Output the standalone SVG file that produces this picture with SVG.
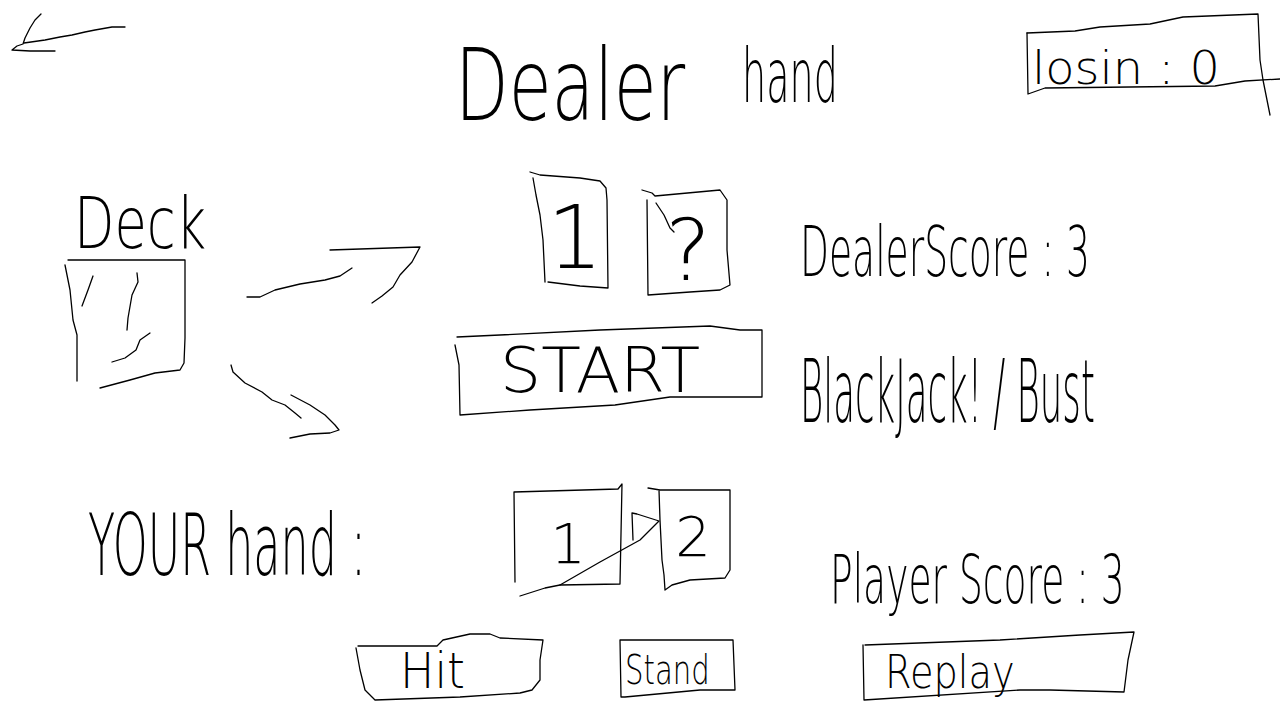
<svg xmlns="http://www.w3.org/2000/svg" width="1280" height="720" viewBox="0 0 1280 720">
<style>
.s{fill:none;stroke:#000;stroke-width:1.3;stroke-linejoin:round;stroke-linecap:round}
.t{font-family:"DejaVu Sans","Liberation Sans",sans-serif;font-weight:200;fill:#000}
</style>
<rect width="1280" height="720" fill="#fff"/>
<g id="back">
<path class="s" d="M125,27 L112,27 L95,30 L85,32 L72,35 L60,37 L45,40 L24,43"/>
<path class="s" d="M41,14 L35,20 L30,28 L25,38 L23,44 L17,46 L12,50 L30,51 L55,51"/>
</g>
<g id="dealer-title">
<text class="t" transform="translate(455,120) scale(0.7,1)" font-size="100" textLength="329" lengthAdjust="spacingAndGlyphs">Dealer</text>
<text class="t" transform="translate(742,102) scale(0.53,1)" font-size="74" textLength="181" lengthAdjust="spacingAndGlyphs">hand</text>
</g>
<g id="losing">
<path class="s" d="M1027,33 L1075,31 L1100,27 L1150,24 L1183,17 L1258,14 L1260,60 L1263,80 L1267,100 L1270,115"/>
<path class="s" d="M1027,33 L1028,94 L1045,88 L1215,86 L1245,81 L1280,79"/>
<text class="t" x="1032" y="84" font-size="46" textLength="188" lengthAdjust="spacingAndGlyphs">losin : 0</text>
</g>
<g id="deck">
<text class="t" transform="translate(74,248) scale(0.73,1)" font-size="72" textLength="181" lengthAdjust="spacingAndGlyphs">Deck</text>
<path class="s" d="M68,260 L185,260 L185,338 L184,363 L180,370 L155,373 L130,380 L100,388"/>
<path class="s" d="M65,265 L70,290 L73,320 L77,335 L77,381"/>
<path class="s" d="M93,276 L88,290 L82,306"/>
<path class="s" d="M137,273 L138,282 L132,295 L128,318 L127,330"/>
<path class="s" d="M150,333 L140,340 L136,350 L125,358 L112,362"/>
</g>
<g id="connectors">
<path class="s" d="M247,297 L260,297 L275,290 L300,284 L325,280 L340,276 L352,268"/>
<path class="s" d="M330,250 L420,247 L412,262 L400,275 L393,287 L382,296 L372,303"/>
<path class="s" d="M231,365 L233,372 L245,383 L262,392 L272,400 L285,405 L295,413 L301,418"/>
<path class="s" d="M291,395 L310,405 L325,415 L335,425 L339,430 L330,433 L310,434 L290,438"/>
</g>
<g id="dealer-card-1">
<path class="s" d="M530,172 L540,175 L580,178 L600,181 L606,188 L607,200 L608,288 L580,286 L548,282 M533,178 L536,195 L540,215 L543,240 L545,282"/>
<text class="t" x="575" y="268" font-size="88" text-anchor="middle">1</text>
</g>
<g id="dealer-card-2">
<path class="s" d="M642,190 L652,193 L655,196 L720,190 L727,200 L727,250 L730,285 L720,290 L690,292 L648,295 L647,200"/>
<path class="s" d="M656,203 L664,215 L670,228 L674,232"/>
<text class="t" x="688" y="280" font-size="86" text-anchor="middle">?</text>
</g>
<g id="start">
<path class="s" d="M457,337 L500,335 L600,330 L710,326 L740,330 L762,330 L762,397 L670,397 L615,405 L530,410 L460,415 L459,365 L455,345"/>
<text class="t" x="500" y="392" font-size="62" textLength="200" lengthAdjust="spacingAndGlyphs">START</text>
</g>
<g id="dealer-score">
<text class="t" transform="translate(800,276) scale(0.54,1)" font-size="70" textLength="537" lengthAdjust="spacingAndGlyphs">DealerScore : 3</text>
</g>
<g id="result">
<text class="t" transform="translate(800,422) scale(0.42,1)" font-size="88" textLength="702" lengthAdjust="spacingAndGlyphs">BlackJack! / Bust</text>
</g>
<g id="your-hand">
<text class="t" transform="translate(88,575) scale(0.5,1)" font-size="86" textLength="556" lengthAdjust="spacingAndGlyphs">YOUR hand :</text>
</g>
<g id="player-card-1">
<path class="s" d="M514,492 L618,489 L622,484 L620,584 L560,585 M514,492 L515,582"/>
<text class="t" x="568" y="563" font-size="56" text-anchor="middle">1</text>
</g>
<g id="player-card-2">
<path class="s" d="M648,488 L660,490 L730,490 L730,570 L725,578 L690,580 L672,585 L665,590 L664,575 L662,560 L660,520 L659,490"/>
<text class="t" x="693" y="556" font-size="56" text-anchor="middle">2</text>
<path class="s" d="M520,596 L545,588 L560,585 L600,562 L640,540 L659,521 L637,514 L632,513 L633,540"/>
</g>
<g id="player-score">
<text class="t" transform="translate(830,603) scale(0.51,1)" font-size="68" textLength="578" lengthAdjust="spacingAndGlyphs">Player Score : 3</text>
</g>
<g id="hit">
<path class="s" d="M358,646 L437,646 L443,640 L470,634 L490,634 L500,638 L543,640 L540,660 L540,680 L532,690 L520,693 L460,697 L375,700 L365,690 L360,670 L356,648"/>
<text class="t" x="400" y="688" font-size="50" textLength="65" lengthAdjust="spacingAndGlyphs">Hit</text>
</g>
<g id="stand">
<path class="s" d="M620,640 L733,640 L735,690 L700,690 L625,697 L621,697 L620,640"/>
<text class="t" transform="translate(625,684) scale(0.73,1)" font-size="40" textLength="116" lengthAdjust="spacingAndGlyphs">Stand</text>
</g>
<g id="replay">
<path class="s" d="M865,645 L1000,640 L1080,635 L1134,632 L1128,660 L1124,692 L1050,690 L1020,690 L864,700 L863,645"/>
<text class="t" transform="translate(885,688) scale(0.82,1)" font-size="46" textLength="158" lengthAdjust="spacingAndGlyphs">Replay</text>
</g>
</svg>
